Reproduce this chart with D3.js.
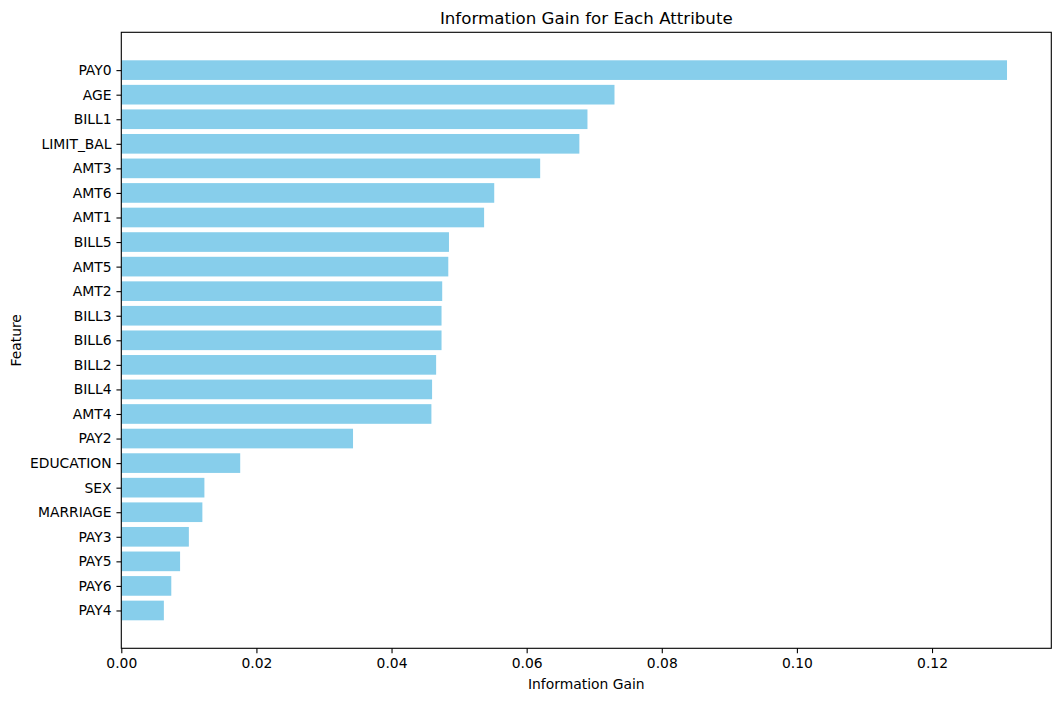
<!DOCTYPE html>
<html><head><meta charset="utf-8">
<script src="https://cdn.jsdelivr.net/npm/d3@7"></script>
<style>body{margin:0;background:#fff}svg{display:block}text{font-family:"DejaVu Sans",sans-serif;fill:#000}</style>
</head><body>
<svg id="c" width="1060" height="701"></svg>
<script>
const features = ["PAY0","AGE","BILL1","LIMIT_BAL","AMT3","AMT6","AMT1","BILL5","AMT5","AMT2","BILL3","BILL6","BILL2","BILL4","AMT4","PAY2","EDUCATION","SEX","MARRIAGE","PAY3","PAY5","PAY6","PAY4"];
const gains = [0.1311,0.0730,0.0690,0.0678,0.0620,0.0552,0.0537,0.0485,0.0484,0.0475,0.0474,0.0474,0.0466,0.0460,0.0459,0.0343,0.0176,0.0123,0.0120,0.0100,0.0087,0.0074,0.0063];
const xTicks = [0,0.02,0.04,0.06,0.08,0.10,0.12];

const L=121.3,R=1051.3,T=32.3,B=648.3;
const FS="13.89px";
const svg=d3.select("#c");
const n=features.length;
const maxV=d3.max(gains);
const x=d3.scaleLinear().domain([0, maxV*1.05]).range([L,R]);
const pos = (i)=> n-1-i;
const y=d3.scaleLinear().domain([-0.4-0.05*(n-0.2), n-1+0.4+0.05*(n-0.2)]).range([B,T]);
const h=y(0)-y(0.8);

svg.append("g").selectAll("rect").data(gains).join("rect")
 .attr("x",x(0)).attr("y",(d,i)=>y(pos(i)+0.4))
 .attr("width",d=>x(d)-x(0)).attr("height",h).attr("fill","#87CEEB");

const xa=d3.axisBottom(x).tickValues(xTicks).tickFormat(d3.format(".2f")).tickSize(4.86).tickPadding(4.86).tickSizeOuter(0);
const gx=svg.append("g").attr("transform",`translate(0,${B})`).call(xa);
gx.select(".domain").remove();
gx.selectAll("text").style("font-size",FS).style("font-family","DejaVu Sans");
gx.selectAll("line").attr("stroke","#000").attr("stroke-width",1.1);

const ya=d3.axisLeft(y).tickValues(d3.range(n)).tickFormat(v=>features[n-1-v]).tickSize(4.86).tickPadding(4.86).tickSizeOuter(0);
const gy=svg.append("g").attr("transform",`translate(${L},0)`).call(ya);
gy.select(".domain").remove();
gy.selectAll("text").style("font-size",FS).style("font-family","DejaVu Sans");
gy.selectAll("line").attr("stroke","#000").attr("stroke-width",1.1);

svg.append("rect").attr("x",L).attr("y",T).attr("width",R-L).attr("height",B-T)
 .attr("fill","none").attr("stroke","#000").attr("stroke-width",1.1);

svg.append("text").attr("x",(L+R)/2).attr("y",24).attr("text-anchor","middle").style("font-size","16.67px").text("Information Gain for Each Attribute");
svg.append("text").attr("x",(L+R)/2).attr("y",689).attr("text-anchor","middle").style("font-size",FS).text("Information Gain");
svg.append("text").attr("transform","translate(21,"+((T+B)/2)+") rotate(-90)").attr("text-anchor","middle").style("font-size",FS).text("Feature");
</script>
</body></html>
